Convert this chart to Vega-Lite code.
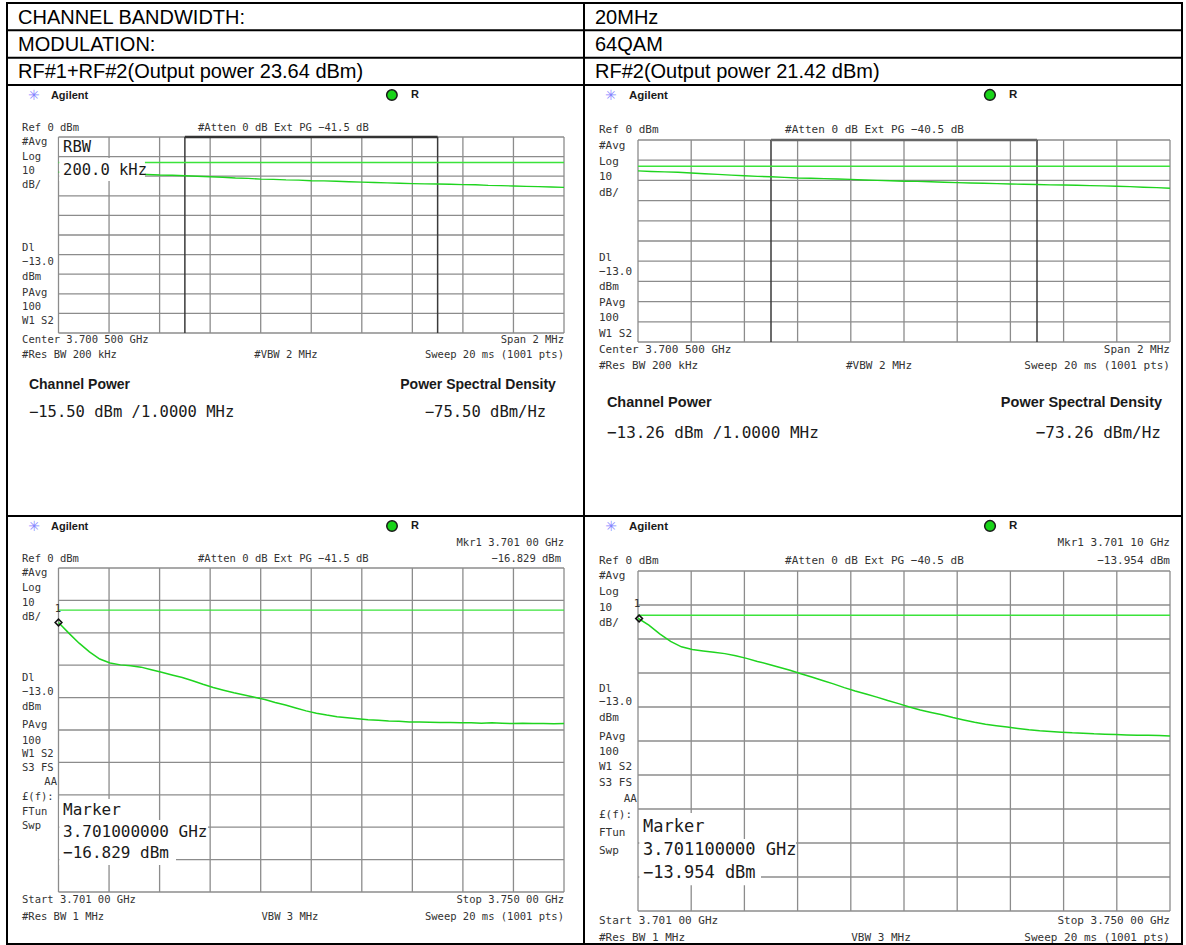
{
  "$schema": "https://vega.github.io/schema/vega-lite/v6.json",
  "padding": {"left": 5, "top": 2, "right": 4, "bottom": 0},
  "background": "#ffffff",
  "config": {"view": {"stroke": "#000000", "strokeWidth": 2}},
  "columns": 2,
  "spacing": 0,
  "bounds": "flush",
  "align": "each",
  "datasets": {
    "hdr_l": [{"r": "1", "t": "CHANNEL BANDWIDTH:"}, {"r": "2", "t": "MODULATION:"}, {"r": "3", "t": "RF#1+RF#2(Output power 23.64 dBm)"}],
    "hdr_r": [{"r": "1", "t": "20MHz"}, {"r": "2", "t": "64QAM"}, {"r": "3", "t": "RF#2(Output power 21.42 dBm)"}],
    "gv_top": [{"f": 3699.5, "l": 0, "l2": -100}, {"f": 3699.7, "l": 0, "l2": -100}, {"f": 3699.9, "l": 0, "l2": -100}, {"f": 3700.1, "l": 0, "l2": -100}, {"f": 3700.3, "l": 0, "l2": -100}, {"f": 3700.5, "l": 0, "l2": -100}, {"f": 3700.7, "l": 0, "l2": -100}, {"f": 3700.9, "l": 0, "l2": -100}, {"f": 3701.1, "l": 0, "l2": -100}, {"f": 3701.3, "l": 0, "l2": -100}, {"f": 3701.5, "l": 0, "l2": -100}],
    "gv_bot": [{"f": 3701, "l": 0, "l2": -100}, {"f": 3705.9, "l": 0, "l2": -100}, {"f": 3710.8, "l": 0, "l2": -100}, {"f": 3715.7, "l": 0, "l2": -100}, {"f": 3720.6, "l": 0, "l2": -100}, {"f": 3725.5, "l": 0, "l2": -100}, {"f": 3730.4, "l": 0, "l2": -100}, {"f": 3735.3, "l": 0, "l2": -100}, {"f": 3740.2, "l": 0, "l2": -100}, {"f": 3745.1, "l": 0, "l2": -100}, {"f": 3750, "l": 0, "l2": -100}],
    "gh_top": [{"l": 0, "f": 3699.5, "f2": 3701.5}, {"l": -10, "f": 3699.5, "f2": 3701.5}, {"l": -20, "f": 3699.5, "f2": 3701.5}, {"l": -30, "f": 3699.5, "f2": 3701.5}, {"l": -40, "f": 3699.5, "f2": 3701.5}, {"l": -50, "f": 3699.5, "f2": 3701.5}, {"l": -60, "f": 3699.5, "f2": 3701.5}, {"l": -70, "f": 3699.5, "f2": 3701.5}, {"l": -80, "f": 3699.5, "f2": 3701.5}, {"l": -90, "f": 3699.5, "f2": 3701.5}, {"l": -100, "f": 3699.5, "f2": 3701.5}],
    "gh_bot": [{"l": 0, "f": 3701, "f2": 3750}, {"l": -10, "f": 3701, "f2": 3750}, {"l": -20, "f": 3701, "f2": 3750}, {"l": -30, "f": 3701, "f2": 3750}, {"l": -40, "f": 3701, "f2": 3750}, {"l": -50, "f": 3701, "f2": 3750}, {"l": -60, "f": 3701, "f2": 3750}, {"l": -70, "f": 3701, "f2": 3750}, {"l": -80, "f": 3701, "f2": 3750}, {"l": -90, "f": 3701, "f2": 3750}, {"l": -100, "f": 3701, "f2": 3750}],
    "chan_top": [{"f": 3700, "l": 0, "l2": -100}, {"f": 3701, "l": 0, "l2": -100}],
    "bracket_top": [{"f": 3700, "f2": 3701, "l": 0}],
    "dl_top": [{"l": -13, "f": 3699.5, "f2": 3701.5}],
    "dl_bot": [{"l": -13, "f": 3701, "f2": 3750}],
    "tl_trace": [
      {"f": 3699.50, "l": -17.9}, {"f": 3699.55, "l": -18.2}, {"f": 3699.60, "l": -18.3}, {"f": 3699.65, "l": -18.5}, {"f": 3699.70, "l": -18.6},
      {"f": 3699.75, "l": -18.9}, {"f": 3699.80, "l": -18.9}, {"f": 3699.85, "l": -19.1}, {"f": 3699.90, "l": -19.4}, {"f": 3699.95, "l": -19.5},
      {"f": 3700.00, "l": -19.8}, {"f": 3700.05, "l": -20.0}, {"f": 3700.10, "l": -20.3}, {"f": 3700.15, "l": -20.5}, {"f": 3700.20, "l": -20.9},
      {"f": 3700.25, "l": -21.1}, {"f": 3700.30, "l": -21.5}, {"f": 3700.35, "l": -21.6}, {"f": 3700.40, "l": -21.9}, {"f": 3700.45, "l": -22.0},
      {"f": 3700.50, "l": -22.3}, {"f": 3700.55, "l": -22.4}, {"f": 3700.60, "l": -22.6}, {"f": 3700.65, "l": -22.8}, {"f": 3700.70, "l": -23.0},
      {"f": 3700.75, "l": -23.2}, {"f": 3700.80, "l": -23.4}, {"f": 3700.85, "l": -23.6}, {"f": 3700.90, "l": -23.8}, {"f": 3700.95, "l": -23.9},
      {"f": 3701.00, "l": -24.0}, {"f": 3701.05, "l": -24.1}, {"f": 3701.10, "l": -24.3}, {"f": 3701.15, "l": -24.4}, {"f": 3701.20, "l": -24.7},
      {"f": 3701.25, "l": -24.8}, {"f": 3701.30, "l": -25.0}, {"f": 3701.35, "l": -25.2}, {"f": 3701.40, "l": -25.3}, {"f": 3701.45, "l": -25.5},
      {"f": 3701.50, "l": -25.7}
    ],
    "tr_trace": [
      {"f": 3699.50, "l": -15.3}, {"f": 3699.55, "l": -15.6}, {"f": 3699.60, "l": -15.8}, {"f": 3699.65, "l": -16.0}, {"f": 3699.70, "l": -16.3},
      {"f": 3699.75, "l": -16.7}, {"f": 3699.80, "l": -17.0}, {"f": 3699.85, "l": -17.4}, {"f": 3699.90, "l": -17.7}, {"f": 3699.95, "l": -18.0},
      {"f": 3700.00, "l": -18.2}, {"f": 3700.05, "l": -18.5}, {"f": 3700.10, "l": -18.8}, {"f": 3700.15, "l": -18.9}, {"f": 3700.20, "l": -19.1},
      {"f": 3700.25, "l": -19.3}, {"f": 3700.30, "l": -19.5}, {"f": 3700.35, "l": -19.8}, {"f": 3700.40, "l": -20.0}, {"f": 3700.45, "l": -20.2},
      {"f": 3700.50, "l": -20.4}, {"f": 3700.55, "l": -20.5}, {"f": 3700.60, "l": -20.7}, {"f": 3700.65, "l": -20.9}, {"f": 3700.70, "l": -21.1},
      {"f": 3700.75, "l": -21.3}, {"f": 3700.80, "l": -21.4}, {"f": 3700.85, "l": -21.6}, {"f": 3700.90, "l": -21.8}, {"f": 3700.95, "l": -21.9},
      {"f": 3701.00, "l": -22.0}, {"f": 3701.05, "l": -22.2}, {"f": 3701.10, "l": -22.3}, {"f": 3701.15, "l": -22.4}, {"f": 3701.20, "l": -22.6},
      {"f": 3701.25, "l": -22.7}, {"f": 3701.30, "l": -22.9}, {"f": 3701.35, "l": -23.1}, {"f": 3701.40, "l": -23.4}, {"f": 3701.45, "l": -23.6},
      {"f": 3701.50, "l": -23.9}
    ],
    "bl_trace": [
      {"f": 3701, "l": -16.8}, {"f": 3702, "l": -20.1}, {"f": 3703, "l": -23.2}, {"f": 3704, "l": -25.9}, {"f": 3705, "l": -28.1},
      {"f": 3706, "l": -29.3}, {"f": 3707, "l": -29.9}, {"f": 3708, "l": -30.2}, {"f": 3709, "l": -30.6}, {"f": 3710, "l": -31.4},
      {"f": 3711, "l": -32.2}, {"f": 3712, "l": -33.0}, {"f": 3713, "l": -33.8}, {"f": 3714, "l": -34.8}, {"f": 3715, "l": -35.9},
      {"f": 3716, "l": -36.9}, {"f": 3717, "l": -37.7}, {"f": 3718, "l": -38.5}, {"f": 3719, "l": -39.2}, {"f": 3720, "l": -39.9},
      {"f": 3721, "l": -40.6}, {"f": 3722, "l": -41.5}, {"f": 3723, "l": -42.3}, {"f": 3724, "l": -43.2}, {"f": 3725, "l": -44.1},
      {"f": 3726, "l": -44.8}, {"f": 3727, "l": -45.4}, {"f": 3728, "l": -45.9}, {"f": 3729, "l": -46.2}, {"f": 3730, "l": -46.5},
      {"f": 3731, "l": -46.8}, {"f": 3732, "l": -47.0}, {"f": 3733, "l": -47.2}, {"f": 3734, "l": -47.3}, {"f": 3735, "l": -47.5},
      {"f": 3736, "l": -47.5}, {"f": 3737, "l": -47.6}, {"f": 3738, "l": -47.7}, {"f": 3739, "l": -47.7}, {"f": 3740, "l": -47.8},
      {"f": 3741, "l": -47.8}, {"f": 3742, "l": -47.9}, {"f": 3743, "l": -47.8}, {"f": 3744, "l": -47.9}, {"f": 3745, "l": -48.0},
      {"f": 3746, "l": -47.9}, {"f": 3747, "l": -48.0}, {"f": 3748, "l": -48.0}, {"f": 3749, "l": -48.1}, {"f": 3750, "l": -48.0}
    ],
    "br_trace": [
      {"f": 3701, "l": -13.9}, {"f": 3702, "l": -15.9}, {"f": 3703, "l": -18.5}, {"f": 3704, "l": -20.7}, {"f": 3705, "l": -22.3},
      {"f": 3706, "l": -23.1}, {"f": 3707, "l": -23.5}, {"f": 3708, "l": -23.9}, {"f": 3709, "l": -24.3}, {"f": 3710, "l": -24.9},
      {"f": 3711, "l": -25.7}, {"f": 3712, "l": -26.6}, {"f": 3713, "l": -27.4}, {"f": 3714, "l": -28.3}, {"f": 3715, "l": -29.2},
      {"f": 3716, "l": -30.2}, {"f": 3717, "l": -31.2}, {"f": 3718, "l": -32.2}, {"f": 3719, "l": -33.2}, {"f": 3720, "l": -34.3},
      {"f": 3721, "l": -35.3}, {"f": 3722, "l": -36.2}, {"f": 3723, "l": -37.1}, {"f": 3724, "l": -38.1}, {"f": 3725, "l": -39.0},
      {"f": 3726, "l": -40.0}, {"f": 3727, "l": -40.9}, {"f": 3728, "l": -41.6}, {"f": 3729, "l": -42.3}, {"f": 3730, "l": -43.1},
      {"f": 3731, "l": -43.8}, {"f": 3732, "l": -44.5}, {"f": 3733, "l": -45.1}, {"f": 3734, "l": -45.5}, {"f": 3735, "l": -45.9},
      {"f": 3736, "l": -46.3}, {"f": 3737, "l": -46.7}, {"f": 3738, "l": -47.0}, {"f": 3739, "l": -47.2}, {"f": 3740, "l": -47.4},
      {"f": 3741, "l": -47.6}, {"f": 3742, "l": -47.7}, {"f": 3743, "l": -47.9}, {"f": 3744, "l": -48.0}, {"f": 3745, "l": -48.1},
      {"f": 3746, "l": -48.2}, {"f": 3747, "l": -48.3}, {"f": 3748, "l": -48.3}, {"f": 3749, "l": -48.4}, {"f": 3750, "l": -48.5}
    ],
    "tl_box": [{"f": 3699.503, "f2": 3699.695, "l": -0.6, "l2": -9.5}, {"f": 3699.503, "f2": 3699.842, "l": -10.7, "l2": -22.4}],
    "tl_sl": [
      {"t": "Ref 0 dBm", "f": 3699.356, "l": 4.6},
      {"t": "#Atten 0 dB Ext PG −41.5 dB", "f": 3700.052, "l": 4.6},
      {"t": "#Avg", "f": 3699.356, "l": -2.6},
      {"t": "Log", "f": 3699.356, "l": -10.2},
      {"t": "10", "f": 3699.356, "l": -17.3},
      {"t": "dB/", "f": 3699.356, "l": -24.5},
      {"t": "Dl", "f": 3699.356, "l": -56.6},
      {"t": "−13.0", "f": 3699.356, "l": -63.8},
      {"t": "dBm", "f": 3699.356, "l": -71.4},
      {"t": "PAvg", "f": 3699.356, "l": -79.6},
      {"t": "100", "f": 3699.356, "l": -86.7},
      {"t": "W1  S2", "f": 3699.356, "l": -93.9},
      {"t": "Center 3.700 500 GHz", "f": 3699.356, "l": -103.6},
      {"t": "#Res BW 200 kHz", "f": 3699.356, "l": -111.2}
    ],
    "tl_sr": [{"t": "Span 2 MHz", "f": 3701.5, "l": -103.6}, {"t": "Sweep 20 ms (1001 pts)", "f": 3701.5, "l": -111.2}],
    "tl_sc": [{"t": "#VBW 2 MHz", "f": 3700.4, "l": -111.2}],
    "tl_bl": [{"t": "Agilent", "f": 3699.47, "l": 20.9}, {"t": "R", "f": 3700.895, "l": 21.4}],
    "tl_star": [{"f": 3699.403, "l": 20.9}],
    "tl_dot": [{"f": 3700.819, "l": 21.4}],
    "tl_ml": [{"t": "Channel Power", "f": 3699.383, "l": -126.5}],
    "tl_mr": [{"t": "Power Spectral Density", "f": 3701.468, "l": -126.5}],
    "tl_gl": [{"t": "−15.50 dBm /1.0000 MHz", "f": 3699.383, "l": -140.3}, {"t": "RBW", "f": 3699.518, "l": -5.1}, {"t": "200.0 kHz", "f": 3699.518, "l": -16.8}],
    "tl_gr": [{"t": "−75.50 dBm/Hz", "f": 3701.429, "l": -140.3}],
    "tr_sl": [
      {"t": "Ref 0 dBm", "f": 3699.353, "l": 4.95},
      {"t": "#Atten 0 dB Ext PG −40.5 dB", "f": 3700.053, "l": 4.95},
      {"t": "#Avg", "f": 3699.353, "l": -3.0},
      {"t": "Log", "f": 3699.353, "l": -10.9},
      {"t": "10", "f": 3699.353, "l": -18.3},
      {"t": "dB/", "f": 3699.353, "l": -26.2},
      {"t": "Dl", "f": 3699.353, "l": -58.4},
      {"t": "−13.0", "f": 3699.353, "l": -65.3},
      {"t": "dBm", "f": 3699.353, "l": -72.8},
      {"t": "PAvg", "f": 3699.353, "l": -80.7},
      {"t": "100", "f": 3699.353, "l": -88.1},
      {"t": "W1  S2", "f": 3699.353, "l": -96.0},
      {"t": "Center 3.700 500 GHz", "f": 3699.353, "l": -104.0},
      {"t": "#Res BW 200 kHz", "f": 3699.353, "l": -111.9}
    ],
    "tr_sr": [{"t": "Span 2 MHz", "f": 3701.5, "l": -104.0}, {"t": "Sweep 20 ms (1001 pts)", "f": 3701.5, "l": -111.9}],
    "tr_sc": [{"t": "#VBW 2 MHz", "f": 3700.406, "l": -111.9}],
    "tr_bl": [{"t": "Agilent", "f": 3699.466, "l": 21.8}, {"t": "R", "f": 3700.895, "l": 22.3}],
    "tr_star": [{"f": 3699.398, "l": 21.8}],
    "tr_dot": [{"f": 3700.823, "l": 22.3}],
    "tr_ml": [{"t": "Channel Power", "f": 3699.383, "l": -130.2}],
    "tr_mr": [{"t": "Power Spectral Density", "f": 3701.47, "l": -130.2}],
    "tr_gl": [{"t": "−13.26 dBm /1.0000 MHz", "f": 3699.383, "l": -145.0}],
    "tr_gr": [{"t": "−73.26 dBm/Hz", "f": 3701.466, "l": -145.0}],
    "bl_sl": [
      {"t": "Ref 0 dBm", "f": 3697.462, "l": 2.8},
      {"t": "#Atten 0 dB Ext PG −41.5 dB", "f": 3714.523, "l": 2.8},
      {"t": "#Avg", "f": 3697.462, "l": -1.5},
      {"t": "Log", "f": 3697.462, "l": -6.2},
      {"t": "10", "f": 3697.462, "l": -10.8},
      {"t": "dB/", "f": 3697.462, "l": -15.1},
      {"t": "Dl", "f": 3697.462, "l": -34.0},
      {"t": "−13.0", "f": 3697.462, "l": -38.3},
      {"t": "dBm", "f": 3697.462, "l": -42.9},
      {"t": "PAvg", "f": 3697.462, "l": -48.5},
      {"t": "100", "f": 3697.462, "l": -53.4},
      {"t": "W1  S2", "f": 3697.462, "l": -57.4},
      {"t": "S3  FS", "f": 3697.462, "l": -61.7},
      {"t": "£(f):", "f": 3697.462, "l": -70.7},
      {"t": "FTun", "f": 3697.462, "l": -75.3},
      {"t": "Swp", "f": 3697.462, "l": -79.6},
      {"t": "Start 3.701 00 GHz", "f": 3697.462, "l": -102.5},
      {"t": "#Res BW 1 MHz", "f": 3697.462, "l": -107.7}
    ],
    "bl_sr": [
      {"t": "Mkr1  3.701 00 GHz", "f": 3750, "l": 7.7},
      {"t": "−16.829 dBm", "f": 3749.71, "l": 2.8},
      {"t": "Stop 3.750 00 GHz", "f": 3750, "l": -102.5},
      {"t": "Sweep 20 ms (1001 pts)", "f": 3750, "l": -107.7},
      {"t": "AA", "f": 3700.855, "l": -66.0}
    ],
    "bl_sc": [{"t": "VBW 3 MHz", "f": 3723.44, "l": -107.7}, {"t": "1", "f": 3700.95, "l": -12.6}],
    "bl_bl": [{"t": "Agilent", "f": 3700.273, "l": 12.65}, {"t": "R", "f": 3735.171, "l": 12.96}],
    "bl_star": [{"f": 3698.625, "l": 12.65}],
    "bl_dot": [{"f": 3733.328, "l": 12.96}],
    "bl_gl": [{"t": "Marker", "f": 3701.436, "l": -74.7}, {"t": "3.701000000 GHz", "f": 3701.436, "l": -81.5}, {"t": "−16.829 dBm", "f": 3701.436, "l": -88.0}],
    "bl_box": [{"f": 3701.08, "f2": 3706.48, "l": -71.3, "l2": -77.8}, {"f": 3701.08, "f2": 3715.49, "l": -77.8, "l2": -84.9}, {"f": 3701.08, "f2": 3712.39, "l": -84.9, "l2": -91.7}],
    "bl_mk": [{"f": 3701.0, "l": -16.829}],
    "br_sl": [
      {"t": "Ref 0 dBm", "f": 3697.408, "l": 2.94},
      {"t": "#Atten 0 dB Ext PG −40.5 dB", "f": 3714.54, "l": 2.94},
      {"t": "#Avg", "f": 3697.408, "l": -1.5},
      {"t": "Log", "f": 3697.408, "l": -6.2},
      {"t": "10", "f": 3697.408, "l": -10.9},
      {"t": "dB/", "f": 3697.408, "l": -15.3},
      {"t": "Dl", "f": 3697.408, "l": -34.7},
      {"t": "−13.0", "f": 3697.408, "l": -38.5},
      {"t": "dBm", "f": 3697.408, "l": -43.2},
      {"t": "PAvg", "f": 3697.408, "l": -48.8},
      {"t": "100", "f": 3697.408, "l": -53.2},
      {"t": "W1  S2", "f": 3697.408, "l": -57.6},
      {"t": "S3  FS", "f": 3697.408, "l": -62.4},
      {"t": "£(f):", "f": 3697.408, "l": -71.8},
      {"t": "FTun", "f": 3697.408, "l": -77.1},
      {"t": "Swp", "f": 3697.408, "l": -82.4},
      {"t": "Start 3.701 00 GHz", "f": 3697.408, "l": -102.9},
      {"t": "#Res BW 1 MHz", "f": 3697.408, "l": -107.9}
    ],
    "br_sr": [
      {"t": "Mkr1  3.701 10 GHz", "f": 3750, "l": 8.24},
      {"t": "−13.954 dBm", "f": 3750, "l": 2.94},
      {"t": "Stop 3.750 00 GHz", "f": 3750, "l": -102.9},
      {"t": "Sweep 20 ms (1001 pts)", "f": 3750, "l": -107.9},
      {"t": "AA", "f": 3700.908, "l": -67.1}
    ],
    "br_sc": [{"t": "VBW 3 MHz", "f": 3723.38, "l": -107.9}, {"t": "1", "f": 3700.908, "l": -9.7}],
    "br_bl": [{"t": "Agilent", "f": 3700.171, "l": 12.94}, {"t": "R", "f": 3735.172, "l": 13.24}],
    "br_star": [{"f": 3698.513, "l": 12.94}],
    "br_dot": [{"f": 3733.422, "l": 13.24}],
    "br_gl": [{"t": "Marker", "f": 3701.461, "l": -75.3}, {"t": "3.701100000 GHz", "f": 3701.461, "l": -82.1}, {"t": "−13.954 dBm", "f": 3701.461, "l": -88.8}],
    "br_box": [{"f": 3701.12, "f2": 3707.36, "l": -71.2, "l2": -78.8}, {"f": 3701.12, "f2": 3715.55, "l": -78.8, "l2": -85.6}, {"f": 3701.12, "f2": 3712.33, "l": -85.6, "l2": -92.4}],
    "br_mk": [{"f": 3701.1, "l": -13.954}]
  },
  "concat": [
    {
      "width": 577, "height": 82,
      "layer": [
        {"data": {"name": "hdr_l"}, "mark": {"type": "rule", "color": "#000000", "strokeWidth": 2},
         "encoding": {"y": {"field": "r", "type": "ordinal", "bandPosition": 1, "axis": null, "scale": {"type": "band", "paddingInner": 0, "paddingOuter": 0}}}},
        {"data": {"name": "hdr_l"}, "mark": {"type": "text", "align": "left", "baseline": "middle", "font": "Liberation Sans", "fontSize": 20, "dx": 11, "dy": 1, "color": "#000000"},
         "encoding": {"y": {"field": "r", "type": "ordinal", "axis": null, "scale": {"type": "band", "paddingInner": 0, "paddingOuter": 0}}, "x": {"datum": 0, "type": "quantitative", "axis": null, "scale": {"domain": [0, 1]}}, "text": {"field": "t"}}}
      ]
    },
    {
      "width": 598, "height": 82,
      "layer": [
        {"data": {"name": "hdr_r"}, "mark": {"type": "rule", "color": "#000000", "strokeWidth": 2},
         "encoding": {"y": {"field": "r", "type": "ordinal", "bandPosition": 1, "axis": null, "scale": {"type": "band", "paddingInner": 0, "paddingOuter": 0}}}},
        {"data": {"name": "hdr_r"}, "mark": {"type": "text", "align": "left", "baseline": "middle", "font": "Liberation Sans", "fontSize": 20, "dx": 11, "dy": 1, "color": "#000000"},
         "encoding": {"y": {"field": "r", "type": "ordinal", "axis": null, "scale": {"type": "band", "paddingInner": 0, "paddingOuter": 0}}, "x": {"datum": 0, "type": "quantitative", "axis": null, "scale": {"domain": [0, 1]}}, "text": {"field": "t"}}}
      ]
    },
    {
      "width": 577, "height": 431,
      "encoding": {
        "x": {"field": "f", "type": "quantitative", "axis": null, "scale": {"domain": [3699.5, 3701.5], "range": [51.5, 557]}},
        "y": {"field": "l", "type": "quantitative", "axis": null, "scale": {"domain": [-100, 0], "range": [248, 52]}}
      },
      "layer": [
        {"data": {"name": "gv_top"}, "mark": {"type": "rule", "color": "#8c8c8c", "strokeWidth": 1.3}, "encoding": {"y2": {"field": "l2"}}},
        {"data": {"name": "gh_top"}, "mark": {"type": "rule", "color": "#8c8c8c", "strokeWidth": 1.3}, "encoding": {"x2": {"field": "f2"}}},
        {"data": {"name": "chan_top"}, "mark": {"type": "rule", "color": "#3a3a3a", "strokeWidth": 1.5}, "encoding": {"y2": {"field": "l2"}}},
        {"data": {"name": "bracket_top"}, "mark": {"type": "rule", "color": "#333333", "strokeWidth": 2.5}, "encoding": {"x2": {"field": "f2"}}},
        {"data": {"name": "dl_top"}, "mark": {"type": "rule", "color": "#3be33b", "strokeWidth": 1.4}, "encoding": {"x2": {"field": "f2"}}},
        {"data": {"name": "tl_trace"}, "mark": {"type": "line", "color": "#1fd41f", "strokeWidth": 1.4}, "encoding": {}},
        {"data": {"name": "tl_box"}, "mark": {"type": "rect", "fill": "#ffffff"}, "encoding": {"x2": {"field": "f2"}, "y2": {"field": "l2"}}},
        {"data": {"name": "tl_sl"}, "mark": {"type": "text", "align": "left", "baseline": "middle", "font": "DejaVu Sans Mono", "fontSize": 10.5, "color": "#333333"}, "encoding": {"text": {"field": "t"}}},
        {"data": {"name": "tl_sr"}, "mark": {"type": "text", "align": "right", "baseline": "middle", "font": "DejaVu Sans Mono", "fontSize": 10.5, "color": "#333333"}, "encoding": {"text": {"field": "t"}}},
        {"data": {"name": "tl_sc"}, "mark": {"type": "text", "align": "center", "baseline": "middle", "font": "DejaVu Sans Mono", "fontSize": 10.5, "color": "#333333"}, "encoding": {"text": {"field": "t"}}},
        {"data": {"name": "tl_bl"}, "mark": {"type": "text", "align": "left", "baseline": "middle", "font": "Liberation Sans", "fontWeight": "bold", "fontSize": 11, "color": "#1a1a1a"}, "encoding": {"text": {"field": "t"}}},
        {"data": {"name": "tl_star"}, "mark": {"type": "text", "align": "center", "baseline": "middle", "font": "DejaVu Sans", "fontSize": 14, "color": "#8585ff"}, "encoding": {"text": {"value": "✳"}}},
        {"data": {"name": "tl_dot"}, "mark": {"type": "point", "shape": "circle", "filled": true, "fill": "#19d419", "stroke": "#1a1a1a", "strokeWidth": 1.5, "size": 110, "opacity": 1}, "encoding": {}},
        {"data": {"name": "tl_ml"}, "mark": {"type": "text", "align": "left", "baseline": "middle", "font": "Liberation Sans", "fontWeight": "bold", "fontSize": 14, "color": "#1a1a1a"}, "encoding": {"text": {"field": "t"}}},
        {"data": {"name": "tl_mr"}, "mark": {"type": "text", "align": "right", "baseline": "middle", "font": "Liberation Sans", "fontWeight": "bold", "fontSize": 14, "color": "#1a1a1a"}, "encoding": {"text": {"field": "t"}}},
        {"data": {"name": "tl_gl"}, "mark": {"type": "text", "align": "left", "baseline": "middle", "font": "DejaVu Sans Mono", "fontSize": 15.5, "color": "#1a1a1a"}, "encoding": {"text": {"field": "t"}}},
        {"data": {"name": "tl_gr"}, "mark": {"type": "text", "align": "right", "baseline": "middle", "font": "DejaVu Sans Mono", "fontSize": 15.5, "color": "#1a1a1a"}, "encoding": {"text": {"field": "t"}}}
      ]
    },
    {
      "width": 598, "height": 431,
      "encoding": {
        "x": {"field": "f", "type": "quantitative", "axis": null, "scale": {"domain": [3699.5, 3701.5], "range": [54, 586]}},
        "y": {"field": "l", "type": "quantitative", "axis": null, "scale": {"domain": [-100, 0], "range": [257, 55]}}
      },
      "layer": [
        {"data": {"name": "gv_top"}, "mark": {"type": "rule", "color": "#8c8c8c", "strokeWidth": 1.3}, "encoding": {"y2": {"field": "l2"}}},
        {"data": {"name": "gh_top"}, "mark": {"type": "rule", "color": "#8c8c8c", "strokeWidth": 1.3}, "encoding": {"x2": {"field": "f2"}}},
        {"data": {"name": "chan_top"}, "mark": {"type": "rule", "color": "#3a3a3a", "strokeWidth": 1.5}, "encoding": {"y2": {"field": "l2"}}},
        {"data": {"name": "bracket_top"}, "mark": {"type": "rule", "color": "#666666", "strokeWidth": 2.5}, "encoding": {"x2": {"field": "f2"}}},
        {"data": {"name": "dl_top"}, "mark": {"type": "rule", "color": "#3be33b", "strokeWidth": 1.4}, "encoding": {"x2": {"field": "f2"}}},
        {"data": {"name": "tr_trace"}, "mark": {"type": "line", "color": "#1fd41f", "strokeWidth": 1.4}, "encoding": {}},
        {"data": {"name": "tr_sl"}, "mark": {"type": "text", "align": "left", "baseline": "middle", "font": "DejaVu Sans Mono", "fontSize": 11, "color": "#333333"}, "encoding": {"text": {"field": "t"}}},
        {"data": {"name": "tr_sr"}, "mark": {"type": "text", "align": "right", "baseline": "middle", "font": "DejaVu Sans Mono", "fontSize": 11, "color": "#333333"}, "encoding": {"text": {"field": "t"}}},
        {"data": {"name": "tr_sc"}, "mark": {"type": "text", "align": "center", "baseline": "middle", "font": "DejaVu Sans Mono", "fontSize": 11, "color": "#333333"}, "encoding": {"text": {"field": "t"}}},
        {"data": {"name": "tr_bl"}, "mark": {"type": "text", "align": "left", "baseline": "middle", "font": "Liberation Sans", "fontWeight": "bold", "fontSize": 11.5, "color": "#1a1a1a"}, "encoding": {"text": {"field": "t"}}},
        {"data": {"name": "tr_star"}, "mark": {"type": "text", "align": "center", "baseline": "middle", "font": "DejaVu Sans", "fontSize": 14, "color": "#8585ff"}, "encoding": {"text": {"value": "✳"}}},
        {"data": {"name": "tr_dot"}, "mark": {"type": "point", "shape": "circle", "filled": true, "fill": "#19d419", "stroke": "#1a1a1a", "strokeWidth": 1.5, "size": 115, "opacity": 1}, "encoding": {}},
        {"data": {"name": "tr_ml"}, "mark": {"type": "text", "align": "left", "baseline": "middle", "font": "Liberation Sans", "fontWeight": "bold", "fontSize": 14.5, "color": "#1a1a1a"}, "encoding": {"text": {"field": "t"}}},
        {"data": {"name": "tr_mr"}, "mark": {"type": "text", "align": "right", "baseline": "middle", "font": "Liberation Sans", "fontWeight": "bold", "fontSize": 14.5, "color": "#1a1a1a"}, "encoding": {"text": {"field": "t"}}},
        {"data": {"name": "tr_gl"}, "mark": {"type": "text", "align": "left", "baseline": "middle", "font": "DejaVu Sans Mono", "fontSize": 16, "color": "#1a1a1a"}, "encoding": {"text": {"field": "t"}}},
        {"data": {"name": "tr_gr"}, "mark": {"type": "text", "align": "right", "baseline": "middle", "font": "DejaVu Sans Mono", "fontSize": 16, "color": "#1a1a1a"}, "encoding": {"text": {"field": "t"}}}
      ]
    },
    {
      "width": 577, "height": 428,
      "encoding": {
        "x": {"field": "f", "type": "quantitative", "axis": null, "scale": {"domain": [3701, 3750], "range": [51.5, 557]}},
        "y": {"field": "l", "type": "quantitative", "axis": null, "scale": {"domain": [-100, 0], "range": [376, 52]}}
      },
      "layer": [
        {"data": {"name": "gv_bot"}, "mark": {"type": "rule", "color": "#8c8c8c", "strokeWidth": 1.3}, "encoding": {"y2": {"field": "l2"}}},
        {"data": {"name": "gh_bot"}, "mark": {"type": "rule", "color": "#8c8c8c", "strokeWidth": 1.3}, "encoding": {"x2": {"field": "f2"}}},
        {"data": {"name": "dl_bot"}, "mark": {"type": "rule", "color": "#3be33b", "strokeWidth": 1.4}, "encoding": {"x2": {"field": "f2"}}},
        {"data": {"name": "bl_trace"}, "mark": {"type": "line", "color": "#1fd41f", "strokeWidth": 1.5}, "encoding": {}},
        {"data": {"name": "bl_box"}, "mark": {"type": "rect", "fill": "#ffffff"}, "encoding": {"x2": {"field": "f2"}, "y2": {"field": "l2"}}},
        {"data": {"name": "bl_sl"}, "mark": {"type": "text", "align": "left", "baseline": "middle", "font": "DejaVu Sans Mono", "fontSize": 10.5, "color": "#333333"}, "encoding": {"text": {"field": "t"}}},
        {"data": {"name": "bl_sr"}, "mark": {"type": "text", "align": "right", "baseline": "middle", "font": "DejaVu Sans Mono", "fontSize": 10.5, "color": "#333333"}, "encoding": {"text": {"field": "t"}}},
        {"data": {"name": "bl_sc"}, "mark": {"type": "text", "align": "center", "baseline": "middle", "font": "DejaVu Sans Mono", "fontSize": 10.5, "color": "#333333"}, "encoding": {"text": {"field": "t"}}},
        {"data": {"name": "bl_bl"}, "mark": {"type": "text", "align": "left", "baseline": "middle", "font": "Liberation Sans", "fontWeight": "bold", "fontSize": 11, "color": "#1a1a1a"}, "encoding": {"text": {"field": "t"}}},
        {"data": {"name": "bl_star"}, "mark": {"type": "text", "align": "center", "baseline": "middle", "font": "DejaVu Sans", "fontSize": 14, "color": "#8585ff"}, "encoding": {"text": {"value": "✳"}}},
        {"data": {"name": "bl_dot"}, "mark": {"type": "point", "shape": "circle", "filled": true, "fill": "#19d419", "stroke": "#1a1a1a", "strokeWidth": 1.5, "size": 110, "opacity": 1}, "encoding": {}},
        {"data": {"name": "bl_gl"}, "mark": {"type": "text", "align": "left", "baseline": "middle", "font": "DejaVu Sans Mono", "fontSize": 16, "color": "#1a1a1a"}, "encoding": {"text": {"field": "t"}}},
        {"data": {"name": "bl_mk"}, "mark": {"type": "point", "shape": "diamond", "filled": false, "stroke": "#111111", "strokeWidth": 1.6, "size": 45, "opacity": 1}, "encoding": {}}
      ]
    },
    {
      "width": 598, "height": 428,
      "encoding": {
        "x": {"field": "f", "type": "quantitative", "axis": null, "scale": {"domain": [3701, 3750], "range": [54, 586]}},
        "y": {"field": "l", "type": "quantitative", "axis": null, "scale": {"domain": [-100, 0], "range": [395, 55]}}
      },
      "layer": [
        {"data": {"name": "gv_bot"}, "mark": {"type": "rule", "color": "#8c8c8c", "strokeWidth": 1.3}, "encoding": {"y2": {"field": "l2"}}},
        {"data": {"name": "gh_bot"}, "mark": {"type": "rule", "color": "#8c8c8c", "strokeWidth": 1.3}, "encoding": {"x2": {"field": "f2"}}},
        {"data": {"name": "dl_bot"}, "mark": {"type": "rule", "color": "#3be33b", "strokeWidth": 1.4}, "encoding": {"x2": {"field": "f2"}}},
        {"data": {"name": "br_trace"}, "mark": {"type": "line", "color": "#1fd41f", "strokeWidth": 1.5}, "encoding": {}},
        {"data": {"name": "br_box"}, "mark": {"type": "rect", "fill": "#ffffff"}, "encoding": {"x2": {"field": "f2"}, "y2": {"field": "l2"}}},
        {"data": {"name": "br_sl"}, "mark": {"type": "text", "align": "left", "baseline": "middle", "font": "DejaVu Sans Mono", "fontSize": 11, "color": "#333333"}, "encoding": {"text": {"field": "t"}}},
        {"data": {"name": "br_sr"}, "mark": {"type": "text", "align": "right", "baseline": "middle", "font": "DejaVu Sans Mono", "fontSize": 11, "color": "#333333"}, "encoding": {"text": {"field": "t"}}},
        {"data": {"name": "br_sc"}, "mark": {"type": "text", "align": "center", "baseline": "middle", "font": "DejaVu Sans Mono", "fontSize": 11, "color": "#333333"}, "encoding": {"text": {"field": "t"}}},
        {"data": {"name": "br_bl"}, "mark": {"type": "text", "align": "left", "baseline": "middle", "font": "Liberation Sans", "fontWeight": "bold", "fontSize": 11.5, "color": "#1a1a1a"}, "encoding": {"text": {"field": "t"}}},
        {"data": {"name": "br_star"}, "mark": {"type": "text", "align": "center", "baseline": "middle", "font": "DejaVu Sans", "fontSize": 14, "color": "#8585ff"}, "encoding": {"text": {"value": "✳"}}},
        {"data": {"name": "br_dot"}, "mark": {"type": "point", "shape": "circle", "filled": true, "fill": "#19d419", "stroke": "#1a1a1a", "strokeWidth": 1.5, "size": 115, "opacity": 1}, "encoding": {}},
        {"data": {"name": "br_gl"}, "mark": {"type": "text", "align": "left", "baseline": "middle", "font": "DejaVu Sans Mono", "fontSize": 17, "color": "#1a1a1a"}, "encoding": {"text": {"field": "t"}}},
        {"data": {"name": "br_mk"}, "mark": {"type": "point", "shape": "diamond", "filled": false, "stroke": "#111111", "strokeWidth": 1.6, "size": 45, "opacity": 1}, "encoding": {}}
      ]
    }
  ]
}
